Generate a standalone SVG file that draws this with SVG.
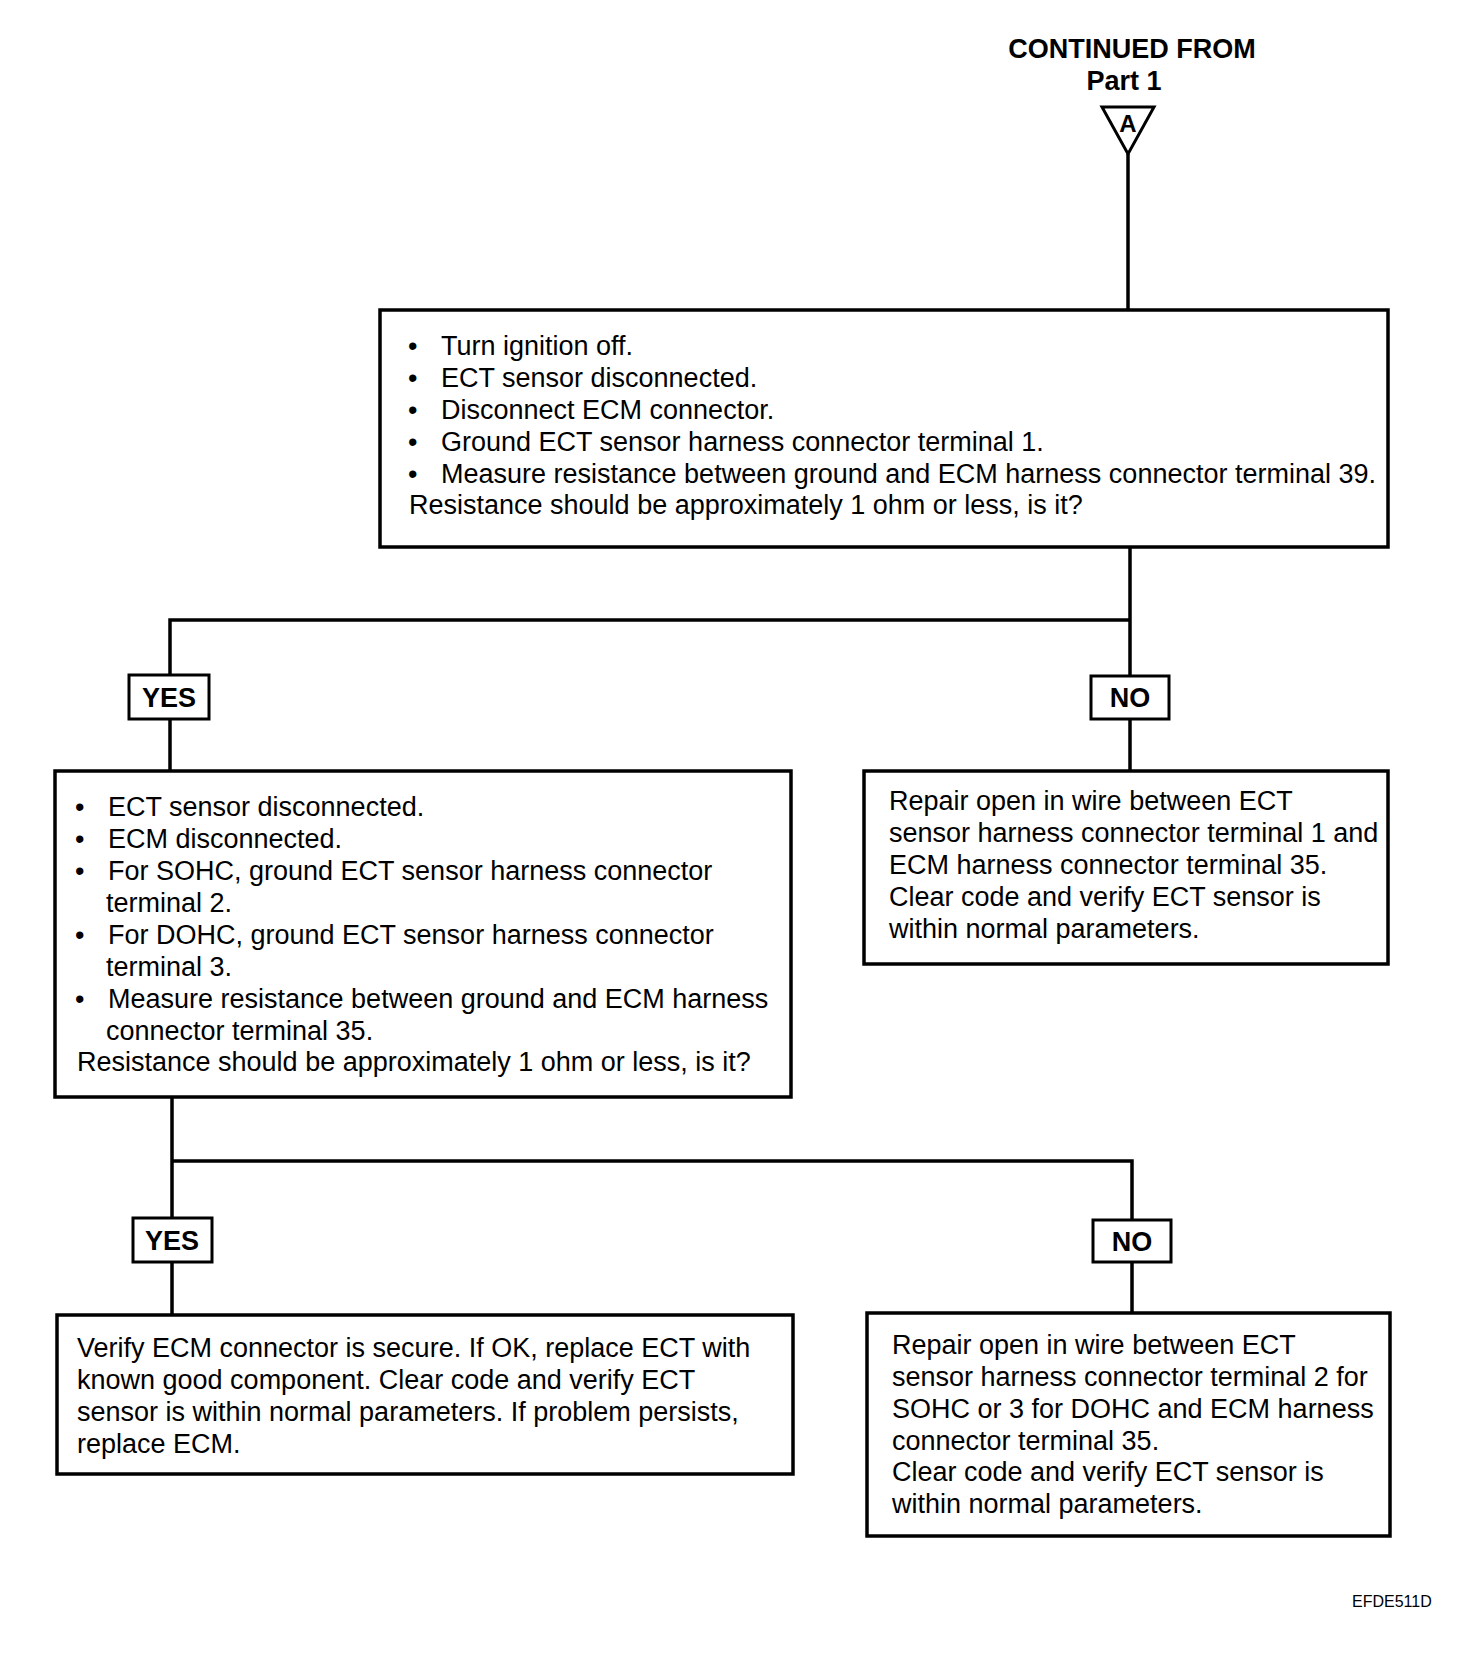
<svg xmlns="http://www.w3.org/2000/svg" width="1472" height="1660" viewBox="0 0 1472 1660">
<style>
.box{fill:#fff;stroke:#000;stroke-width:3.5}
.lbl{fill:#fff;stroke:#000;stroke-width:3}
.t{font-family:"Liberation Sans",Arial,sans-serif;font-size:27px;fill:#000}
.b{font-family:"Liberation Sans",Arial,sans-serif;font-size:27px;font-weight:bold;fill:#000}
.c{fill:none;stroke:#000;stroke-width:3.5}
</style>
<rect width="1472" height="1660" fill="#fff"/>
<g id="connectors">
<path class="c" d="M1128 154 V310"/>
<path class="c" d="M1130 547 V620 H170 V675 M170 719 V771 M1130 620 V676 M1130 719 V771"/>
<path class="c" d="M172 1097 V1161 H1132 V1220 M172 1161 V1218 M172 1262 V1315 M1132 1262 V1313"/>
</g>
<g id="start">
<text class="b" x="1132" y="58" text-anchor="middle">CONTINUED FROM</text>
<text class="b" x="1124" y="90" text-anchor="middle">Part 1</text>
<polygon points="1102,107 1154,107 1128,154" fill="#fff" stroke="#000" stroke-width="3"/>
<text class="b" x="1128" y="132" text-anchor="middle" style="font-size:24px">A</text>
</g>
<g id="step1">
<rect class="box" x="380" y="310" width="1008" height="237"/>
<text class="t" x="408" y="355">•</text><text class="t" x="441" y="355">Turn ignition off.</text>
<text class="t" x="408" y="387">•</text><text class="t" x="441" y="387">ECT sensor disconnected.</text>
<text class="t" x="408" y="419">•</text><text class="t" x="441" y="419">Disconnect ECM connector.</text>
<text class="t" x="408" y="451">•</text><text class="t" x="441" y="451">Ground ECT sensor harness connector terminal 1.</text>
<text class="t" x="408" y="483">•</text><text class="t" x="441" y="483">Measure resistance between ground and ECM harness connector terminal 39.</text>
<text class="t" x="409" y="514">Resistance should be approximately 1 ohm or less, is it?</text>
</g>
<g id="yes1">
<rect class="lbl" x="129" y="675" width="80" height="44"/>
<text class="b" x="169" y="707" text-anchor="middle">YES</text>
</g>
<g id="no1">
<rect class="lbl" x="1091" y="676" width="78" height="43"/>
<text class="b" x="1130" y="707" text-anchor="middle">NO</text>
</g>
<g id="step2">
<rect class="box" x="55" y="771" width="736" height="326"/>
<text class="t" x="75" y="816">•</text><text class="t" x="108" y="816">ECT sensor disconnected.</text>
<text class="t" x="75" y="848">•</text><text class="t" x="108" y="848">ECM disconnected.</text>
<text class="t" x="75" y="880">•</text><text class="t" x="108" y="880">For SOHC, ground ECT sensor harness connector</text>
<text class="t" x="106" y="912">terminal 2.</text>
<text class="t" x="75" y="944">•</text><text class="t" x="108" y="944">For DOHC, ground ECT sensor harness connector</text>
<text class="t" x="106" y="976">terminal 3.</text>
<text class="t" x="75" y="1008">•</text><text class="t" x="108" y="1008">Measure resistance between ground and ECM harness</text>
<text class="t" x="106" y="1040">connector terminal 35.</text>
<text class="t" x="77" y="1071">Resistance should be approximately 1 ohm or less, is it?</text>
</g>
<g id="repair1">
<rect class="box" x="864" y="771" width="524" height="193"/>
<text class="t" x="889" y="810">Repair open in wire between ECT</text>
<text class="t" x="889" y="842">sensor harness connector terminal 1 and</text>
<text class="t" x="889" y="874">ECM harness connector terminal 35.</text>
<text class="t" x="889" y="906">Clear code and verify ECT sensor is</text>
<text class="t" x="889" y="938">within normal parameters.</text>
</g>
<g id="yes2">
<rect class="lbl" x="133" y="1218" width="79" height="44"/>
<text class="b" x="172" y="1250" text-anchor="middle">YES</text>
</g>
<g id="no2">
<rect class="lbl" x="1093" y="1220" width="78" height="42"/>
<text class="b" x="1132" y="1251" text-anchor="middle">NO</text>
</g>
<g id="replace">
<rect class="box" x="57" y="1315" width="736" height="159"/>
<text class="t" x="77" y="1357">Verify ECM connector is secure. If OK, replace ECT with</text>
<text class="t" x="77" y="1389">known good component. Clear code and verify ECT</text>
<text class="t" x="77" y="1421">sensor is within normal parameters. If problem persists,</text>
<text class="t" x="77" y="1453">replace ECM.</text>
</g>
<g id="repair2">
<rect class="box" x="867" y="1313" width="523" height="223"/>
<text class="t" x="892" y="1354">Repair open in wire between ECT</text>
<text class="t" x="892" y="1386">sensor harness connector terminal 2 for</text>
<text class="t" x="892" y="1418">SOHC or 3 for DOHC and ECM harness</text>
<text class="t" x="892" y="1450">connector terminal 35.</text>
<text class="t" x="892" y="1481">Clear code and verify ECT sensor is</text>
<text class="t" x="892" y="1513">within normal parameters.</text>
</g>
<text x="1352" y="1607" font-family="Liberation Sans, Arial, sans-serif" font-size="16" fill="#000">EFDE511D</text>
</svg>
